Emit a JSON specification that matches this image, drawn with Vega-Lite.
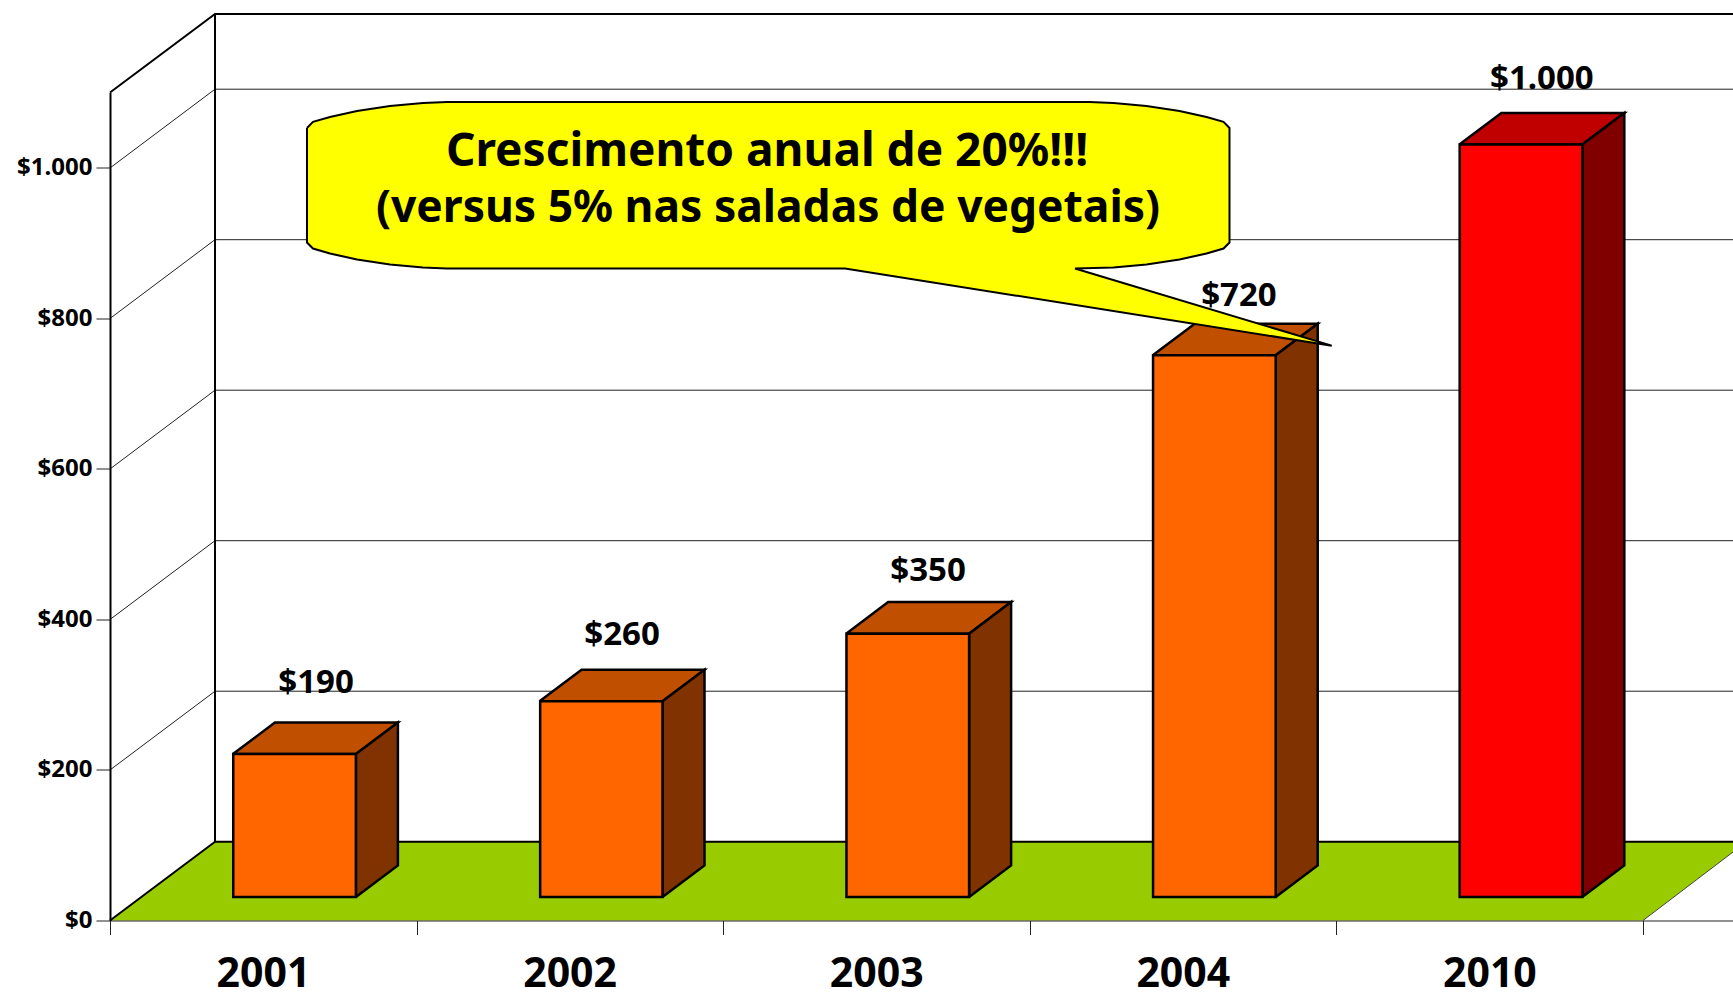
{"$schema":"https://vega.github.io/schema/vega-lite/v6.json","width":1623,"height":828,"autosize":"none","padding":{"left":110,"top":92.5,"right":0,"bottom":71.5},"background":"white","config":{"view":{"stroke":null},"font":"Noto Sans"},
"datasets":{
"grid":[
{"s":"g0","i":0,"x":0,"y":200},{"s":"g0","i":1,"x":0.3425,"y":304.7},{"s":"g0","i":2,"x":5.2935,"y":304.7},
{"s":"g1","i":0,"x":0,"y":400},{"s":"g1","i":1,"x":0.3425,"y":504.7},{"s":"g1","i":2,"x":5.2935,"y":504.7},
{"s":"g2","i":0,"x":0,"y":600},{"s":"g2","i":1,"x":0.3425,"y":704.7},{"s":"g2","i":2,"x":5.2935,"y":704.7},
{"s":"g3","i":0,"x":0,"y":800},{"s":"g3","i":1,"x":0.3425,"y":904.7},{"s":"g3","i":2,"x":5.2935,"y":904.7},
{"s":"g4","i":0,"x":0,"y":1000},{"s":"g4","i":1,"x":0.3425,"y":1104.7},{"s":"g4","i":2,"x":5.2935,"y":1104.7}],
"wall":[
{"s":"top","i":0,"x":0,"y":1100.3},{"s":"top","i":1,"x":0.3425,"y":1204.7},{"s":"top","i":2,"x":5.2935,"y":1204.7},
{"s":"back","i":0,"x":0.3425,"y":1204.7},{"s":"back","i":1,"x":0.3425,"y":104.7},{"s":"back","i":2,"x":5.2935,"y":104.7},
{"s":"side","i":0,"x":0,"y":0},{"s":"side","i":1,"x":0.3425,"y":104.7}],
"floor":[
{"s":"f","i":0,"x":0,"y":0},{"s":"f","i":1,"x":0.3425,"y":104.7},{"s":"f","i":2,"x":5.2935,"y":104.7},{"s":"f","i":3,"x":5.2935,"y":91},{"s":"f","i":4,"x":5,"y":0},{"s":"f","i":5,"x":0,"y":0}],
"floorEdge":[{"s":"e","i":0,"x":5,"y":0},{"s":"e","i":1,"x":5.2935,"y":91}],
"tops":[
{"s":"t1","i":0,"x":0.401,"y":221.2},{"s":"t1","i":1,"x":0.802,"y":221.2},{"s":"t1","i":2,"x":0.939,"y":263.1},{"s":"t1","i":3,"x":0.538,"y":263.1},{"s":"t1","i":4,"x":0.401,"y":221.2},
{"s":"t2","i":0,"x":1.401,"y":291.2},{"s":"t2","i":1,"x":1.802,"y":291.2},{"s":"t2","i":2,"x":1.939,"y":333.1},{"s":"t2","i":3,"x":1.538,"y":333.1},{"s":"t2","i":4,"x":1.401,"y":291.2},
{"s":"t3","i":0,"x":2.401,"y":381.2},{"s":"t3","i":1,"x":2.802,"y":381.2},{"s":"t3","i":2,"x":2.939,"y":423.1},{"s":"t3","i":3,"x":2.538,"y":423.1},{"s":"t3","i":4,"x":2.401,"y":381.2},
{"s":"t4","i":0,"x":3.401,"y":751.2},{"s":"t4","i":1,"x":3.802,"y":751.2},{"s":"t4","i":2,"x":3.939,"y":793.1},{"s":"t4","i":3,"x":3.538,"y":793.1},{"s":"t4","i":4,"x":3.401,"y":751.2}],
"sides":[
{"s":"s1","i":0,"x":0.802,"y":31.2},{"s":"s1","i":1,"x":0.939,"y":73.1},{"s":"s1","i":2,"x":0.939,"y":263.1},{"s":"s1","i":3,"x":0.802,"y":221.2},{"s":"s1","i":4,"x":0.802,"y":31.2},
{"s":"s2","i":0,"x":1.802,"y":31.2},{"s":"s2","i":1,"x":1.939,"y":73.1},{"s":"s2","i":2,"x":1.939,"y":333.1},{"s":"s2","i":3,"x":1.802,"y":291.2},{"s":"s2","i":4,"x":1.802,"y":31.2},
{"s":"s3","i":0,"x":2.802,"y":31.2},{"s":"s3","i":1,"x":2.939,"y":73.1},{"s":"s3","i":2,"x":2.939,"y":423.1},{"s":"s3","i":3,"x":2.802,"y":381.2},{"s":"s3","i":4,"x":2.802,"y":31.2},
{"s":"s4","i":0,"x":3.802,"y":31.2},{"s":"s4","i":1,"x":3.939,"y":73.1},{"s":"s4","i":2,"x":3.939,"y":793.1},{"s":"s4","i":3,"x":3.802,"y":751.2},{"s":"s4","i":4,"x":3.802,"y":31.2}],
"topRed":[{"s":"t5","i":0,"x":4.401,"y":1031.2},{"s":"t5","i":1,"x":4.802,"y":1031.2},{"s":"t5","i":2,"x":4.939,"y":1073.1},{"s":"t5","i":3,"x":4.538,"y":1073.1},{"s":"t5","i":4,"x":4.401,"y":1031.2}],
"sideRed":[{"s":"s5","i":0,"x":4.802,"y":31.2},{"s":"s5","i":1,"x":4.939,"y":73.1},{"s":"s5","i":2,"x":4.939,"y":1073.1},{"s":"s5","i":3,"x":4.802,"y":1031.2},{"s":"s5","i":4,"x":4.802,"y":31.2}],
"bars":[
{"year":"2001","value":190,"x":0.402,"x2":0.802,"base":31.2,"top":221.2},
{"year":"2002","value":260,"x":1.403,"x2":1.802,"base":31.2,"top":291.2},
{"year":"2003","value":350,"x":2.402,"x2":2.802,"base":31.2,"top":381.2},
{"year":"2004","value":720,"x":3.402,"x2":3.802,"base":31.2,"top":751.2},
{"year":"2010","value":1000,"x":4.402,"x2":4.802,"base":31.2,"top":1031.2}],
"labels":[
{"t":"$190","x":0.672,"y":315},{"t":"$260","x":1.67,"y":379},{"t":"$350","x":2.668,"y":464},{"t":"$720","x":3.682,"y":829.6},{"t":"$1.000","x":4.67,"y":1118}],
"callout":[
{"s":"c","i":0,"x":0.6425,"y":1053.2},{"s":"c","i":1,"x":0.6621,"y":1061.3},{"s":"c","i":2,"x":0.7175,"y":1067.8},{"s":"c","i":3,"x":0.8056,"y":1075.7},{"s":"c","i":4,"x":0.9132,"y":1082.4},{"s":"c","i":5,"x":1.0209,"y":1086.4},{"s":"c","i":6,"x":1.0991,"y":1087.7},
{"s":"c","i":7,"x":3.1947,"y":1087.7},{"s":"c","i":8,"x":3.273,"y":1086.4},{"s":"c","i":9,"x":3.3806,"y":1082.4},{"s":"c","i":10,"x":3.4883,"y":1075.7},{"s":"c","i":11,"x":3.5764,"y":1067.8},{"s":"c","i":12,"x":3.6318,"y":1061.3},{"s":"c","i":13,"x":3.6513,"y":1053.2},
{"s":"c","i":14,"x":3.6513,"y":901},{"s":"c","i":15,"x":3.6318,"y":893},{"s":"c","i":16,"x":3.5764,"y":886.4},{"s":"c","i":17,"x":3.4883,"y":878.4},{"s":"c","i":18,"x":3.3806,"y":871.8},{"s":"c","i":19,"x":3.273,"y":867.8},{"s":"c","i":20,"x":3.1474,"y":866.4},
{"s":"c","i":21,"x":3.9847,"y":763.9},{"s":"c","i":22,"x":2.3973,"y":866.4},{"s":"c","i":23,"x":1.0991,"y":866.4},{"s":"c","i":24,"x":1.0209,"y":867.8},{"s":"c","i":25,"x":0.9132,"y":871.8},{"s":"c","i":26,"x":0.8056,"y":878.4},{"s":"c","i":27,"x":0.7175,"y":886.4},{"s":"c","i":28,"x":0.6621,"y":893},{"s":"c","i":29,"x":0.6425,"y":901},{"s":"c","i":30,"x":0.6425,"y":1053.2}],
"note1":[{"t":"Crescimento anual de 20%!!!","x":2.143,"y":1021}],
"note2":[{"t":"(versus 5% nas saladas de vegetais)","x":2.146,"y":946}]
},
"encoding":{
"x":{"field":"x","type":"quantitative","title":null,"scale":{"domain":[0,5.2935],"nice":false,"zero":false},
"axis":{"values":[0,1,2,3,4,5],"grid":false,"zindex":1,"tickSize":14,"tickColor":"#222222","domainColor":"#222222","domainWidth":1,"labelExpr":"['2001','2002','2003','2004','2010',''][datum.value]","labelOffset":153,"labelPadding":20,"labelFontSize":41,"labelFontWeight":"bold","labelFont":"Noto Sans","labelColor":"black","labelFlush":false,"labelOverlap":false,"labelBound":false}},
"y":{"field":"y","type":"quantitative","title":null,"scale":{"domain":[0,1100.3],"nice":false,"zero":false},
"axis":{"values":[0,200,400,600,800,1000],"grid":false,"zindex":1,"tickSize":14,"tickColor":"#222222","domainColor":"black","domainWidth":2,"labelExpr":"'$' + replace(format(datum.value, ','), ',', '.')","labelPadding":4,"labelFontSize":24,"labelFontWeight":"bold","labelFont":"Noto Sans","labelColor":"black","labelOverlap":false,"labelBound":false,"labelFlush":false}}
},
"layer":[
{"data":{"name":"floor"},"mark":{"type":"line","fill":"#99CC00","stroke":null,"clip":false},"encoding":{"order":{"field":"i"},"detail":{"field":"s"}}},
{"data":{"name":"floorEdge"},"mark":{"type":"line","stroke":"#444444","strokeWidth":1,"clip":false},"encoding":{"order":{"field":"i"},"detail":{"field":"s"}}},
{"data":{"name":"grid"},"mark":{"type":"line","stroke":"#222222","strokeWidth":1,"clip":false},"encoding":{"order":{"field":"i"},"detail":{"field":"s"}}},
{"data":{"name":"wall"},"mark":{"type":"line","stroke":"black","strokeWidth":2,"clip":false},"encoding":{"order":{"field":"i"},"detail":{"field":"s"}}},
{"data":{"name":"tops"},"mark":{"type":"line","fill":"#C05000","stroke":"black","strokeWidth":2.5,"strokeJoin":"miter","clip":false},"encoding":{"order":{"field":"i"},"detail":{"field":"s"}}},
{"data":{"name":"sides"},"mark":{"type":"line","fill":"#803300","stroke":"black","strokeWidth":2.5,"strokeJoin":"miter","clip":false},"encoding":{"order":{"field":"i"},"detail":{"field":"s"}}},
{"data":{"name":"topRed"},"mark":{"type":"line","fill":"#C00000","stroke":"black","strokeWidth":2.5,"strokeJoin":"miter","clip":false},"encoding":{"order":{"field":"i"},"detail":{"field":"s"}}},
{"data":{"name":"sideRed"},"mark":{"type":"line","fill":"#800000","stroke":"black","strokeWidth":2.5,"strokeJoin":"miter","clip":false},"encoding":{"order":{"field":"i"},"detail":{"field":"s"}}},
{"data":{"name":"bars"},"mark":{"type":"rect","stroke":"black","strokeWidth":2.5,"clip":false},"encoding":{"x2":{"field":"x2"},"y":{"field":"base","type":"quantitative"},"y2":{"field":"top"},"fill":{"field":"year","type":"nominal","legend":null,"scale":{"domain":["2001","2002","2003","2004","2010"],"range":["#FF6600","#FF6600","#FF6600","#FF6600","#FF0000"]}}}},
{"data":{"name":"labels"},"mark":{"type":"text","fontSize":33,"fontWeight":"bold","font":"Noto Sans","color":"black","baseline":"middle","align":"center","clip":false},"encoding":{"text":{"field":"t"}}},
{"data":{"name":"callout"},"mark":{"type":"line","fill":"#FFFF00","stroke":"black","strokeWidth":2,"strokeJoin":"miter","clip":false},"encoding":{"order":{"field":"i"},"detail":{"field":"s"}}},
{"data":{"name":"note1"},"mark":{"type":"text","fontSize":46,"fontWeight":"bold","font":"Noto Sans","color":"black","baseline":"middle","align":"center","clip":false},"encoding":{"text":{"field":"t"}}},
{"data":{"name":"note2"},"mark":{"type":"text","fontSize":44.4,"fontWeight":"bold","font":"Noto Sans","color":"black","baseline":"middle","align":"center","clip":false},"encoding":{"text":{"field":"t"}}}
]}
